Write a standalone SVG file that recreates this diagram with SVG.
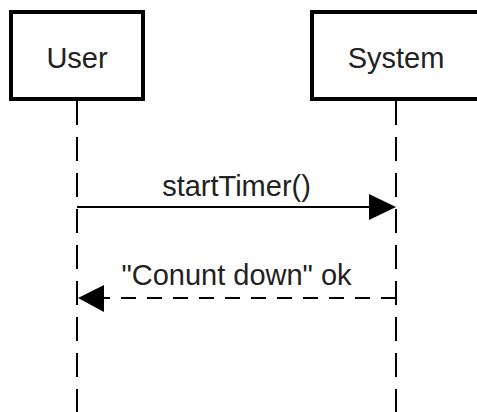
<svg xmlns="http://www.w3.org/2000/svg" width="477" height="412" viewBox="0 0 477 412">
<defs>
<style>
.box{fill:#fff;stroke:#000;stroke-width:4}
.lbl{font-family:"Liberation Sans",Arial,sans-serif;font-size:29px;fill:#222;text-anchor:middle}
.life{stroke:#000;stroke-width:2;stroke-dasharray:24 12;fill:none}
.msg{stroke:#000;stroke-width:2;fill:none}
.ret{stroke:#000;stroke-width:2;stroke-dasharray:15 11;fill:none}
.head{fill:#000}
</style>
</defs>
<rect width="477" height="412" fill="#fff"/>
<g id="lifelines">
<line class="life" x1="77" y1="101" x2="77" y2="412"/>
<line class="life" x1="396" y1="101" x2="396" y2="412"/>
</g>
<g id="user">
<rect class="box" x="11" y="12" width="132" height="87"/>
<text class="lbl" x="77" y="68">User</text>
</g>
<g id="system">
<rect class="box" x="312" y="12" width="172" height="87"/>
<text class="lbl" x="396" y="68">System</text>
</g>
<g id="connectors">
<line class="msg" x1="77" y1="207" x2="370" y2="207"/>
<polygon class="head" points="396,207 369,194 369,220"/>
<text class="lbl" x="236.5" y="196">startTimer()</text>
<line class="ret" x1="396" y1="298" x2="103" y2="298"/>
<polygon class="head" points="78,298 104,285 104,312"/>
<text class="lbl" x="236.5" y="285">"Conunt down" ok</text>
</g>
</svg>
